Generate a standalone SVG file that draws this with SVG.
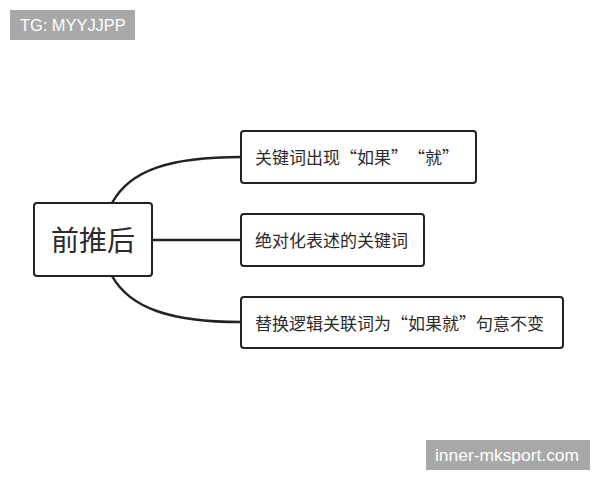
<svg xmlns="http://www.w3.org/2000/svg" width="600" height="480" viewBox="0 0 600 480">
<style>
.box{fill:#fff;stroke:#222;stroke-width:2}
.conn{fill:none;stroke:#222;stroke-width:2.5}
.t{font-family:"Noto Sans CJK SC","Liberation Sans",sans-serif;fill:#2a2a2a;font-size:17px}
.wm{fill:#a8a8a8}
.wt{font-family:"Liberation Sans",Arial,sans-serif;fill:#fff}
</style>
<rect width="600" height="480" fill="#fff"/>
<g id="wm1"><rect class="wm" x="10" y="10" width="125" height="30"/><text class="wt" x="20" y="31" style="font-size:16.4px">TG: MYYJJPP</text></g>
<g id="wm2"><rect class="wm" x="426" y="440" width="164" height="30"/><text class="wt" x="435" y="461" style="font-size:17.4px">inner-mksport.com</text></g>
<g id="connectors">
<path class="conn" d="M112,203 C130,170 170,157 241,157"/>
<path class="conn" d="M152,240 L241,240"/>
<path class="conn" d="M112,276 C130,308 170,322 241,322"/>
</g>
<g id="root"><rect class="box" x="34" y="203" width="118" height="73" rx="3"/><text class="t" x="93" y="251" text-anchor="middle" style="font-size:28px">前推后</text></g>
<g id="n1"><rect class="box" x="241" y="131" width="235" height="52" rx="3"/><text class="t" x="255 272 289 306 323 340 357 374 391 408 425 442" y="163.5">关键词出现“如果”“就”</text></g>
<g id="n2"><rect class="box" x="241" y="214" width="183" height="52" rx="3"/><text class="t" x="255" y="246.5">绝对化表述的关键词</text></g>
<g id="n3"><rect class="box" x="241" y="297" width="322" height="51" rx="3"/><text class="t" x="255 272 289 306 323 340 357 374 391 408 425 442 459 476 493 510 527" y="329.5">替换逻辑关联词为“如果就”句意不变</text></g>
</svg>
